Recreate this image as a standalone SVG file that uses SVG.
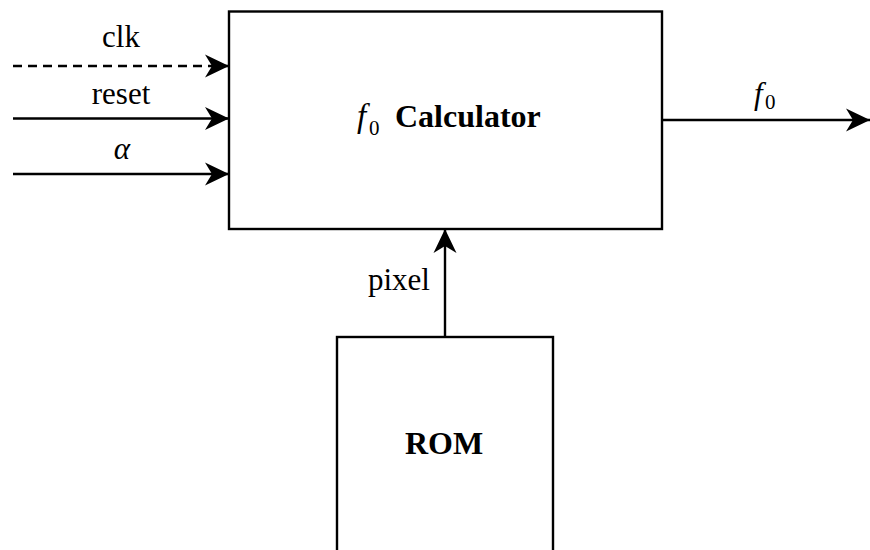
<svg xmlns="http://www.w3.org/2000/svg" width="870" height="550" viewBox="0 0 870 550">
  <defs>
    <marker id="arrow" viewBox="0 0 24 24" refX="24" refY="12" markerWidth="24" markerHeight="24" markerUnits="userSpaceOnUse" orient="auto">
      <path d="M0,0.5 L24,12 L0,23.5 L7,12 Z" fill="#000"/>
    </marker>
    <style>
      .box { fill: #fff; stroke: #000; stroke-width: 2.4; }
      .wire { fill: none; stroke: #000; stroke-width: 2.4; marker-end: url(#arrow); }
      .dashed { stroke-dasharray: 9 6; }
      .lbl { font-family: "Liberation Serif", "Times New Roman", serif; font-size: 31px; fill: #000; }
      .math { font-family: "Liberation Serif", "Times New Roman", serif; font-style: italic; font-size: 31px; fill: #000; }
      .sub { font-family: "Liberation Serif", "Times New Roman", serif; font-size: 21px; fill: #000; }
      .title { font-family: "Liberation Serif", "Times New Roman", serif; font-weight: bold; font-size: 32px; fill: #000; }
    </style>
  </defs>

  <rect width="870" height="550" fill="#fff"/>

  <g id="connectors">
    <line class="wire dashed" x1="13" y1="66" x2="229" y2="66"/>
    <line class="wire" x1="13" y1="118.5" x2="229" y2="118.5"/>
    <line class="wire" x1="13" y1="174" x2="229" y2="174"/>
    <line class="wire" x1="662" y1="120" x2="870" y2="120"/>
    <line class="wire" x1="445" y1="337" x2="445" y2="229"/>
  </g>

  <g id="labels">
    <text class="lbl" x="121" y="47" text-anchor="middle">clk</text>
    <text class="lbl" x="121" y="104" text-anchor="middle">reset</text>
    <text class="math" x="122" y="159" text-anchor="middle">α</text>
    <text class="math" x="754" y="104">f</text>
    <text class="sub" x="765" y="109">0</text>
    <text class="lbl" x="430" y="290" text-anchor="end">pixel</text>
  </g>

  <g id="calculator">
    <rect class="box" x="229" y="11.5" width="433" height="217.5"/>
    <text class="math" x="357" y="127" style="font-size:33px">f</text>
    <text class="sub" x="369" y="135">0</text>
    <text class="title" x="395" y="127">Calculator</text>
  </g>

  <g id="rom">
    <rect class="box" x="337" y="337" width="216" height="230"/>
    <text class="title" x="444" y="454" text-anchor="middle">ROM</text>
  </g>
</svg>
